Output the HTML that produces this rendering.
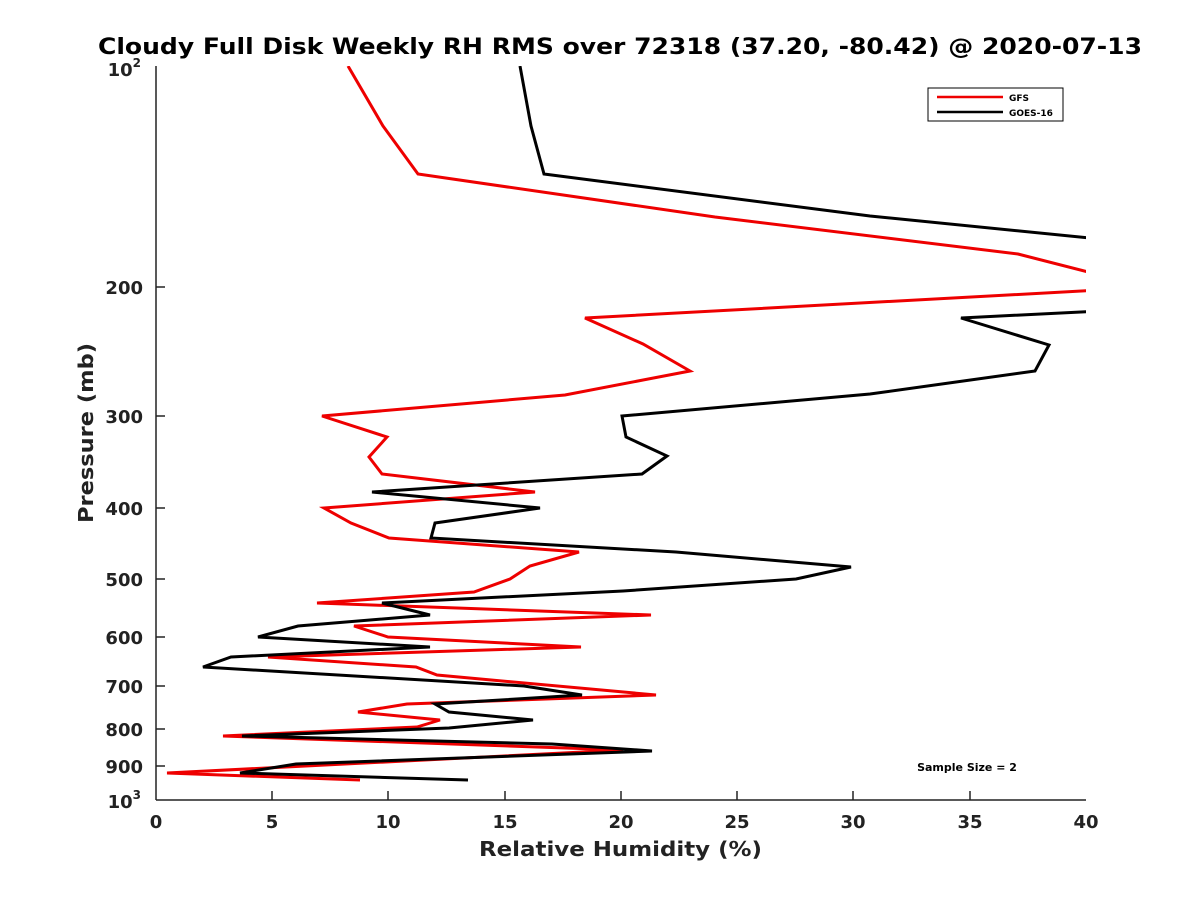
<!DOCTYPE html>
<html><head><meta charset="utf-8"><style>body{margin:0;background:#fff}</style></head><body>
<svg width="1200" height="900" xmlns="http://www.w3.org/2000/svg" font-family="'DejaVu Sans',sans-serif" font-weight="bold">
<rect width="1200" height="900" fill="#fff"/>
<text x="98" y="54" font-size="22" textLength="1044" lengthAdjust="spacingAndGlyphs">Cloudy Full Disk Weekly RH RMS over 72318 (37.20, -80.42) @ 2020-07-13</text>
<defs><clipPath id="c"><rect x="156" y="66" width="930" height="734"/></clipPath></defs>
<g clip-path="url(#c)" fill="none" stroke-width="3" stroke-linejoin="miter">
<polyline stroke="#e00" points="348,66 383,126 418,174 715,217 1018,254 1100,275"/>
<polyline stroke="#e00" points="1100,290 585,318 643,344 690,371 565,395 322,416 387,437 369,457 382,474 535,492 324,508 351,523 389,538 579,552 530,566 510,579 474,592 317,603 651,615 354,626 388,637 581,647 268,657 416,667 437,675 656,695 407,704 358,712 440,720 417,727 223,736 623,750 167,773 360,780"/>
<polyline stroke="#000" points="520,66 531,126 544,174 870,216 1100,239"/>
<polyline stroke="#000" points="1100,311 961,318 1049,345 1035,371 870,394 622,416 626,437 667,456 642,474 372,492 540,508 435,523 431,538 676,552 851,567 796,579 623,591 382,603 430,615 298,626 258,637 430,647 231,657 203,667 524,686 582,695 435,704 449,712 533,720 449,728 242,736 552,744 652,751 296,764 240,773 468,780"/>
</g>
<g stroke="#222" stroke-width="1.5" fill="none">
<line x1="156" y1="66" x2="156" y2="800"/><line x1="156" y1="800" x2="1086" y2="800"/>
<line x1="272" y1="800" x2="272" y2="791"/><line x1="388" y1="800" x2="388" y2="791"/><line x1="505" y1="800" x2="505" y2="791"/><line x1="621" y1="800" x2="621" y2="791"/><line x1="737" y1="800" x2="737" y2="791"/><line x1="853" y1="800" x2="853" y2="791"/><line x1="970" y1="800" x2="970" y2="791"/>
<line x1="156" y1="287" x2="165" y2="287"/><line x1="156" y1="416" x2="165" y2="416"/><line x1="156" y1="508" x2="165" y2="508"/><line x1="156" y1="579" x2="165" y2="579"/><line x1="156" y1="637" x2="165" y2="637"/><line x1="156" y1="686" x2="165" y2="686"/><line x1="156" y1="729" x2="165" y2="729"/><line x1="156" y1="766" x2="165" y2="766"/>
</g>
<g font-size="18" fill="#222" text-anchor="middle">
<text x="156" y="828">0</text><text x="272" y="828">5</text><text x="388" y="828">10</text><text x="505" y="828">15</text><text x="621" y="828">20</text><text x="737" y="828">25</text><text x="853" y="828">30</text><text x="970" y="828">35</text><text x="1086" y="828">40</text>
</g>
<g font-size="18" fill="#222" text-anchor="end">
<text x="141" y="76">10<tspan font-size="12" dy="-9">2</tspan></text>
<text x="143" y="294">200</text><text x="143" y="423">300</text><text x="143" y="515">400</text><text x="143" y="586">500</text><text x="143" y="644">600</text><text x="143" y="693">700</text><text x="143" y="736">800</text><text x="143" y="773">900</text>
<text x="141" y="808">10<tspan font-size="12" dy="-9">3</tspan></text>
</g>
<text x="479" y="856" font-size="20" fill="#222" textLength="283" lengthAdjust="spacingAndGlyphs">Relative Humidity (%)</text>
<text transform="translate(93,523) rotate(-90)" font-size="20" fill="#222" textLength="180" lengthAdjust="spacingAndGlyphs">Pressure (mb)</text>
<rect x="928" y="88" width="135" height="33" fill="#fff" stroke="#000" stroke-width="1"/>
<line x1="937" y1="97" x2="1003" y2="97" stroke="#e00" stroke-width="2.5"/>
<line x1="937" y1="112" x2="1003" y2="112" stroke="#000" stroke-width="2.5"/>
<text x="1009" y="101" font-size="9">GFS</text>
<text x="1009" y="116" font-size="9">GOES-16</text>
<text x="967" y="771" font-size="11" text-anchor="middle">Sample Size = 2</text>
</svg>
</body></html>
